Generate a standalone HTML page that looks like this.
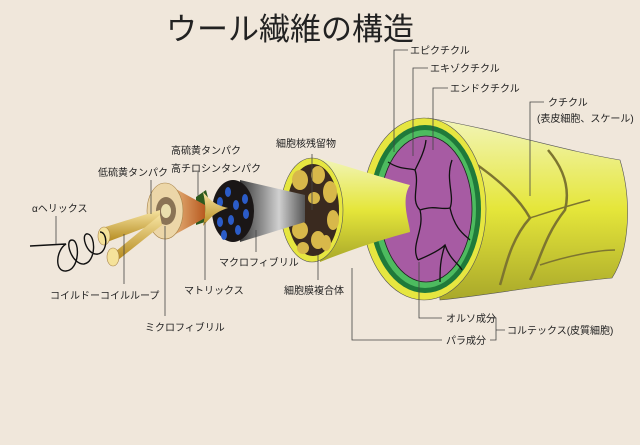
<!DOCTYPE html>
<html><head><meta charset="utf-8"><style>
html,body{margin:0;padding:0;background:#f0e7db;}
svg{display:block}
text{font-family:"Liberation Sans","Noto Sans CJK JP",sans-serif;fill:#222;font-size:10px}
</style></head><body>
<svg width="640" height="445" viewBox="0 0 640 445" xmlns="http://www.w3.org/2000/svg">
<defs>
<linearGradient id="yl" x1="0" y1="0" x2="0" y2="1">
<stop offset="0" stop-color="#f2f5b8"/><stop offset="0.5" stop-color="#e5e63a"/><stop offset="1" stop-color="#a9a82a"/></linearGradient>
<linearGradient id="gr" x1="0" y1="0" x2="1" y2="0">
<stop offset="0" stop-color="#3a3a3a"/><stop offset="0.6" stop-color="#d0d0d0"/><stop offset="1" stop-color="#555"/></linearGradient>
<linearGradient id="or" x1="0" y1="0" x2="1" y2="0">
<stop offset="0" stop-color="#f1c890"/><stop offset="1" stop-color="#b85a20"/></linearGradient>
<linearGradient id="gd" x1="0" y1="0" x2="0" y2="1">
<stop offset="0" stop-color="#f6e3a0"/><stop offset="1" stop-color="#b58a1e"/></linearGradient>
</defs>
<rect width="640" height="445" fill="#f0e7db"/>
<text x="166" y="40" style="font-size:31px">ウール繊維の構造</text>

<path d="M428,118 C500,130 560,150 620,160 C632,200 630,250 612,278 C540,285 490,295 440,300 Z" fill="url(#yl)" stroke="#555" stroke-width="0.6"/>
<path d="M470,160 C500,180 520,200 530,218 C510,240 505,270 500,285" fill="none" stroke="#7d7530" stroke-width="2.5"/>
<path d="M548,150 C565,170 570,190 565,210 C545,235 540,260 530,280" fill="none" stroke="#7d7530" stroke-width="2.5"/>
<path d="M530,218 C555,210 570,205 590,200 M540,265 C570,255 600,250 615,250" fill="none" stroke="#7d7530" stroke-width="1.5"/>
<ellipse cx="424" cy="209" rx="62" ry="91" fill="#e6e640" stroke="#555" stroke-width="0.6"/>
<ellipse cx="425" cy="209" rx="56" ry="84" fill="#1f7a3a"/>
<ellipse cx="425" cy="209" rx="51" ry="79" fill="#4dbb5f"/>
<ellipse cx="426" cy="209" rx="46" ry="73" fill="#a75ba3" stroke="#222" stroke-width="0.8"/>
<path d="M388,162 C400,170 410,168 415,170 C420,185 410,200 420,210 C425,230 410,245 418,260 M415,170 C420,160 425,150 426,140 M420,210 C435,205 440,210 450,208 C455,195 445,180 452,160 M450,208 C455,230 465,235 470,240 M418,260 C430,255 440,250 445,245 C450,260 460,265 462,270 M445,245 C440,260 440,270 440,282" fill="none" stroke="#111" stroke-width="1.3"/>

<path d="M318,158 C360,170 390,180 410,185 C400,200 410,225 410,232 C380,240 350,250 320,262 Z" fill="url(#yl)"/>
<ellipse cx="312" cy="210" rx="31" ry="52" fill="#e6e640" stroke="#555" stroke-width="0.6"/>
<ellipse cx="313" cy="210" rx="26" ry="46" fill="#3a2a1f"/>
<g fill="#d8b84a">
<ellipse cx="300" cy="180" rx="8" ry="10"/><ellipse cx="318" cy="175" rx="7" ry="9"/><ellipse cx="330" cy="192" rx="7" ry="11"/>
<ellipse cx="298" cy="202" rx="7" ry="8"/><ellipse cx="314" cy="198" rx="6" ry="6"/><ellipse cx="333" cy="220" rx="6" ry="10"/>
<ellipse cx="300" cy="230" rx="8" ry="9"/><ellipse cx="318" cy="240" rx="7" ry="9"/><ellipse cx="303" cy="248" rx="6" ry="6"/><ellipse cx="326" cy="243" rx="5" ry="8"/>
</g>

<path d="M240,180 L305,195 L305,222 L240,242 Z" fill="url(#gr)"/>
<ellipse cx="233" cy="211" rx="21" ry="31" fill="#1a1616"/>
<g fill="#2b5cc8">
<ellipse cx="228" cy="192" rx="3" ry="5"/><ellipse cx="220" cy="202" rx="3" ry="5"/><ellipse cx="236" cy="205" rx="3" ry="5"/><ellipse cx="245" cy="199" rx="3" ry="5"/><ellipse cx="246" cy="214" rx="3" ry="5"/><ellipse cx="231" cy="220" rx="3" ry="5"/><ellipse cx="220" cy="222" rx="3" ry="5"/><ellipse cx="238" cy="230" rx="3" ry="5"/><ellipse cx="224" cy="235" rx="3" ry="5"/>
</g>
<path d="M196,197 L206,190 L210,205 L205,222 L196,225 Z" fill="#2d5a1e"/>
<path d="M203,192 C210,200 215,205 228,208 C215,212 210,218 203,226 C206,212 206,205 203,192 Z" fill="url(#gd)"/>
<path d="M165,183 L205,205 L205,218 L165,240 Z" fill="url(#or)"/>
<ellipse cx="165" cy="211" rx="18" ry="28" fill="#ecd6a8" stroke="#a8844a" stroke-width="0.6"/>
<ellipse cx="166" cy="211" rx="10" ry="14" fill="#8a7355"/>
<ellipse cx="166" cy="211" rx="5" ry="7" fill="#eadfae"/>
<path d="M102,228 L160,210 L160,222 L107,242 Z" fill="url(#gd)"/>
<path d="M110,256 L160,215 L162,225 L118,260 Z" fill="url(#gd)"/>
<ellipse cx="104" cy="236" rx="6" ry="9" fill="#f5e29a" stroke="#a8844a" stroke-width="0.6"/>
<ellipse cx="113" cy="257" rx="6" ry="9" fill="#f5e29a" stroke="#a8844a" stroke-width="0.6"/>
<path d="M30,246 L66,244 C56,250 54,272 66,271 C80,270 80,240 72,240 C64,240 72,265 84,264 C96,262 96,236 88,234 C80,232 86,256 98,254 C108,252 108,232 100,232" fill="none" stroke="#111" stroke-width="1.4"/>

<g fill="none" stroke="#444" stroke-width="0.8">
<path d="M408,50 H394 V152"/><path d="M428,68 H413 V156"/><path d="M448,88 H433 V150"/>
<path d="M544,102 H530 V196"/><path d="M312,154 V210"/><path d="M198,172 V196"/>
<path d="M151,180 V214"/><path d="M56,216 V244"/><path d="M256,230 V252"/>
<path d="M318,255 V280"/><path d="M124,234 V284"/><path d="M205,222 V280"/>
<path d="M165,226 V316"/><path d="M419,262 V318 H442"/><path d="M352,268 V340 H442"/>
<path d="M490,318 H496 V340 H490 M496,330 H505"/>
</g>

<text x="410" y="54">エピクチクル</text>
<text x="430" y="72">エキゾクチクル</text>
<text x="450" y="92">エンドクチクル</text>
<text x="548" y="106">クチクル</text>
<text x="537" y="122">(表皮細胞、スケール)</text>
<text x="276" y="147">細胞核残留物</text>
<text x="171" y="154">高硫黄タンパク</text>
<text x="171" y="172">高チロシンタンパク</text>
<text x="98" y="176">低硫黄タンパク</text>
<text x="32" y="212">αヘリックス</text>
<text x="219" y="266">マクロフィブリル</text>
<text x="284" y="294">細胞膜複合体</text>
<text x="50" y="299">コイルドーコイルループ</text>
<text x="184" y="294">マトリックス</text>
<text x="145" y="331">ミクロフィブリル</text>
<text x="446" y="322">オルソ成分</text>
<text x="446" y="344">パラ成分</text>
<text x="507" y="334">コルテックス(皮質細胞)</text>
</svg>
</body></html>
